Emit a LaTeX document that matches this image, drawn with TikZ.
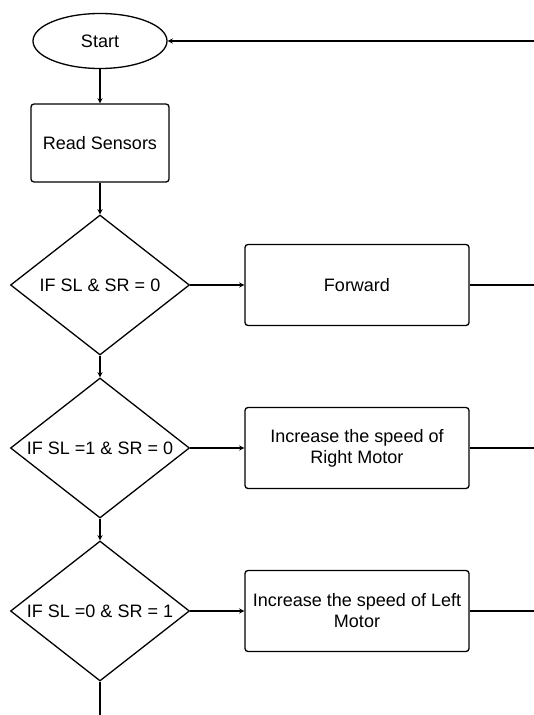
\documentclass[tikz,border=0pt]{standalone}
\usepackage{fontspec}
\setmainfont{Liberation Sans}
\usetikzlibrary{positioning, arrows, shapes}
\tikzset{
    >=stealth, % filled arrow heads
    x=1pt, y=1pt, % one unit is one pixel of the chart
    node distance=102pt, % distance between node centres. Change if necessary.
    every node/.style={font=\fontsize{18}{21}\selectfont, align=center},
    line/.style={line width=1.3pt}, % all connectors
    startnode/.style={ellipse, draw, line width=1.3pt, minimum width=134pt, minimum height=55pt, inner sep=0pt},
    process/.style={rectangle, draw, line width=1.3pt, rounded corners=3pt, minimum width=138pt, minimum height=78pt},
    action/.style={process, minimum width=224pt, minimum height=81pt, inner sep=1pt},
    cond/.style={diamond, draw, line width=1.3pt, minimum width=179pt, minimum height=140pt, inner sep=0pt},
}

\begin{document}
\begin{tikzpicture}
            \useasboundingbox (0,0) rectangle (534,-715);

            \node[startnode] (start) at (100,-41) {Start};
            \node[process, below of=start] (read) {Read Sensors};
            \node[cond, below of=read, node distance=142pt, label={[name=c1text]center:IF SL \& SR = 0}] (c1) {};
            \node[cond, below of=c1, node distance=163pt, label={[name=c2text]center:IF SL =1 \& SR = 0}] (c2) {};
            \node[cond, below of=c2, node distance=163pt, label={[name=c3text]center:IF SL =0 \& SR = 1}] (c3) {};

            \node[action, right of=c1, node distance=257pt] (fwd) {Forward};
            \node[action, right of=c2, node distance=257pt] (right) {Increase the speed of\\Right Motor};
            \node[action, right of=c3, node distance=257pt] (left) {Increase the speed of Left\\Motor};

            % loose ends at the border of the chart
            \coordinate (back) at (534,-41);
            \coordinate (fwdend) at (534,-285);
            \coordinate (rightend) at (534,-448);
            \coordinate (leftend) at (534,-611);
            \coordinate (down) at (100,-715);

            \path[->, line]
                (back) edge (start)
                (start) edge (read)
                (read) edge (c1)
                (c1) edge (c2)
                (c2) edge (c3)
                (c1) edge (fwd)
                (c2) edge (right)
                (c3) edge (left);

            \draw[line] (fwd) -- (fwdend);
            \draw[line] (right) -- (rightend);
            \draw[line] (left) -- (leftend);
            \draw[line] (c3) -- (down);
        \end{tikzpicture}
\end{document}
